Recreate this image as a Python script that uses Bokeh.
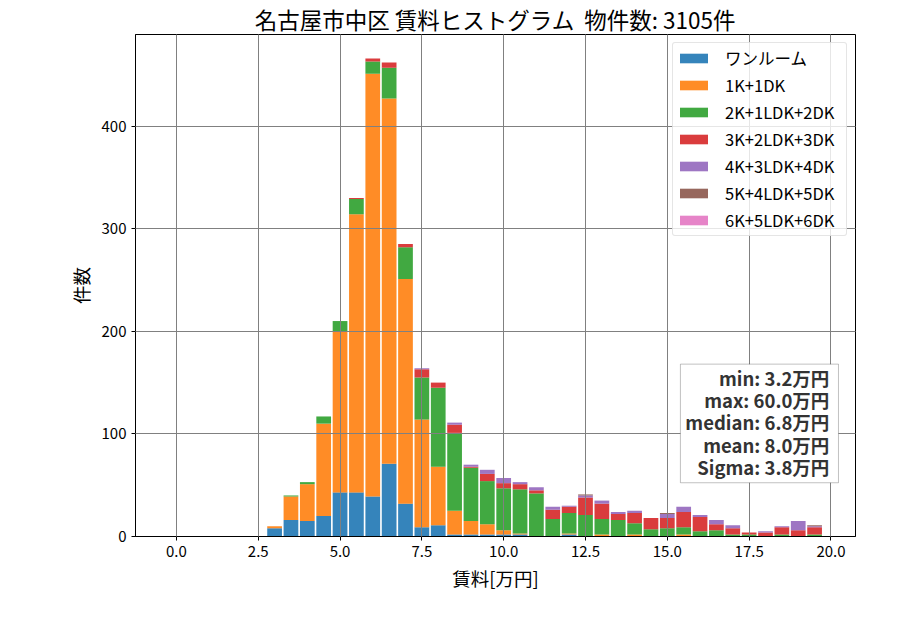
from bokeh.plotting import figure
from bokeh.models import (ColumnDataSource, Range1d, FixedTicker, PrintfTickFormatter,
                          BoxAnnotation, Label, Legend)
from bokeh.embed import file_html
from bokeh.resources import INLINE

FONT = "Noto Sans CJK JP"

TITLE = "名古屋市中区 賃料ヒストグラム\u00a0\u00a0物件数: 3105件"
XLABEL = "賃料[万円]"
YLABEL = "件数"

bin_centers = [3.0, 3.5, 4.0, 4.5, 5.0, 5.5, 6.0, 6.5, 7.0, 7.5, 8.0, 8.5, 9.0, 9.5,
               10.0, 10.5, 11.0, 11.5, 12.0, 12.5, 13.0, 13.5, 14.0, 14.5, 15.0, 15.5,
               16.0, 16.5, 17.0, 17.5, 18.0, 18.5, 19.0, 19.5]

series_names = ["ワンルーム", "1K+1DK", "2K+1LDK+2DK", "3K+2LDK+3DK",
                "4K+3LDK+4DK", "5K+4LDK+5DK", "6K+5LDK+6DK"]

one_room = [8, 16, 15, 20, 43, 43, 39, 71, 32, 9, 11, 2, 2, 2, 2, 2, 0, 0, 2, 0, 0, 0,
            0, 0, 0, 0, 0, 0, 0, 0, 0, 0, 0, 0]
k1_dk1 = [2, 23, 36, 90, 157, 271, 412, 356, 219, 105, 57, 23, 13, 10, 4, 1, 0, 0, 1, 0,
          2, 0, 2, 0, 0, 2, 0, 0, 0, 0, 0, 0, 0, 0]
k2_ldk1_dk2 = [0, 1, 2, 7, 10, 15, 12, 30, 31, 41, 77, 76, 52, 42, 41, 43, 42, 17, 20, 21,
               15, 16, 11, 7, 8, 7, 5, 6, 2, 2, 0, 2, 0, 2]
k3_ldk2_dk3 = [0, 0, 0, 0, 0, 1, 3, 5, 3, 8, 5, 8, 1, 7, 5, 5, 3, 9, 6, 17, 15, 6, 10, 11,
               10, 15, 14, 6, 6, 2, 4, 7, 6, 7]
k4_ldk3_dk4 = [0, 0, 0, 0, 0, 0, 0, 0, 0, 1, 0, 2, 2, 4, 5, 2, 3, 3, 1, 2, 3, 2, 2, 0, 4,
               5, 2, 4, 3, 0, 1, 1, 9, 1]
k5_ldk4_dk5 = [0, 0, 0, 0, 0, 0, 0, 0, 0, 0, 0, 0, 0, 0, 0, 0, 0, 0, 0, 1, 0, 0, 0, 0, 1,
               0, 0, 0, 0, 0, 0, 0, 0, 1]
k6_ldk5_dk6 = [0] * len(bin_centers)

x_ticks = [0.0, 2.5, 5.0, 7.5, 10.0, 12.5, 15.0, 17.5, 20.0]
y_ticks = [0, 100, 200, 300, 400]

stats_lines = ["min: 3.2万円", "max: 60.0万円", "median: 6.8万円", "mean: 8.0万円", "Sigma: 3.8万円"]

colors = ["#1f77b4", "#ff7f0e", "#2ca02c", "#d62728", "#9467bd", "#8c564b", "#e377c2"]
keys = ["s0", "s1", "s2", "s3", "s4", "s5", "s6"]

data = dict(x=bin_centers, s0=one_room, s1=k1_dk1, s2=k2_ldk1_dk2, s3=k3_ldk2_dk3,
            s4=k4_ldk3_dk4, s5=k5_ldk4_dk5, s6=k6_ldk5_dk6)
source = ColumnDataSource(data)

p = figure(width=884, height=614, output_backend="svg", toolbar_location=None,
           x_range=Range1d(-1.25, 20.75), y_range=Range1d(0, 489.3),
           min_border_left=135, min_border_right=29, min_border_top=32,
           min_border_bottom=78)

p.title.text = TITLE
p.title.text_font = FONT
p.title.text_font_size = "22.5px"
p.title.text_font_style = "normal"
p.title.text_color = "black"
p.title.align = "center"
p.title.standoff = 0
p.title.offset = 0

renderers = p.vbar_stack(keys, x="x", width=0.45, source=source, color=colors,
                         fill_alpha=0.9, line_color=None)

legend = Legend(items=[(n, [r]) for n, r in zip(series_names, renderers)],
                location="top_right")
legend.label_text_font = FONT
legend.label_text_font_size = "16.5px"
legend.label_text_color = "black"
legend.glyph_width = 35
legend.glyph_height = 12
legend.label_height = 16
legend.label_width = 118
legend.spacing = 3
legend.label_standoff = 14
legend.padding = 3
legend.margin = 8
legend.border_line_color = "#cccccc"
legend.border_line_width = 1
legend.background_fill_alpha = 0.8
legend.border_radius = 3
p.add_layout(legend)

# stats box
p.add_layout(BoxAnnotation(left=15.40, right=20.23, bottom=52.4, top=168.0,
                           fill_color="white", fill_alpha=1.0,
                           line_color="#333333", line_width=1, level="annotation"))
y0 = 154.4
for i, t in enumerate(stats_lines):
    p.add_layout(Label(x=19.95, y=y0 - i * 21.6, text=t, text_align="right",
                       text_baseline="middle", text_font=FONT, text_font_size="18.5px",
                       text_font_style="bold", text_color="#333333"))

p.xaxis.ticker = FixedTicker(ticks=x_ticks)
p.xaxis.formatter = PrintfTickFormatter(format="%.1f")
p.yaxis.ticker = FixedTicker(ticks=y_ticks)
for ax in (p.xaxis, p.yaxis):
    ax.major_label_text_font = FONT
    ax.major_label_text_font_size = "15px"
    ax.major_label_text_color = "black"
    ax.axis_label_text_font = FONT
    ax.axis_label_text_font_size = "18.5px"
    ax.axis_label_text_font_style = "normal"
    ax.axis_label_text_color = "black"
    ax.axis_line_color = "black"
    ax.major_tick_line_color = "black"
    ax.major_tick_out = 4
    ax.major_tick_in = 0
    ax.minor_tick_line_color = None
p.xaxis.axis_label = XLABEL
p.yaxis.axis_label = YLABEL

p.xgrid.grid_line_color = "#808080"
p.ygrid.grid_line_color = "#808080"
p.xgrid.grid_line_alpha = 1.0
p.ygrid.grid_line_alpha = 1.0
p.xgrid.level = "guide"
p.ygrid.level = "guide"

p.outline_line_color = "black"
p.outline_line_alpha = 1.0
p.background_fill_color = "white"
p.border_fill_color = "white"

open("out.html", "w").write(file_html(p, INLINE))
